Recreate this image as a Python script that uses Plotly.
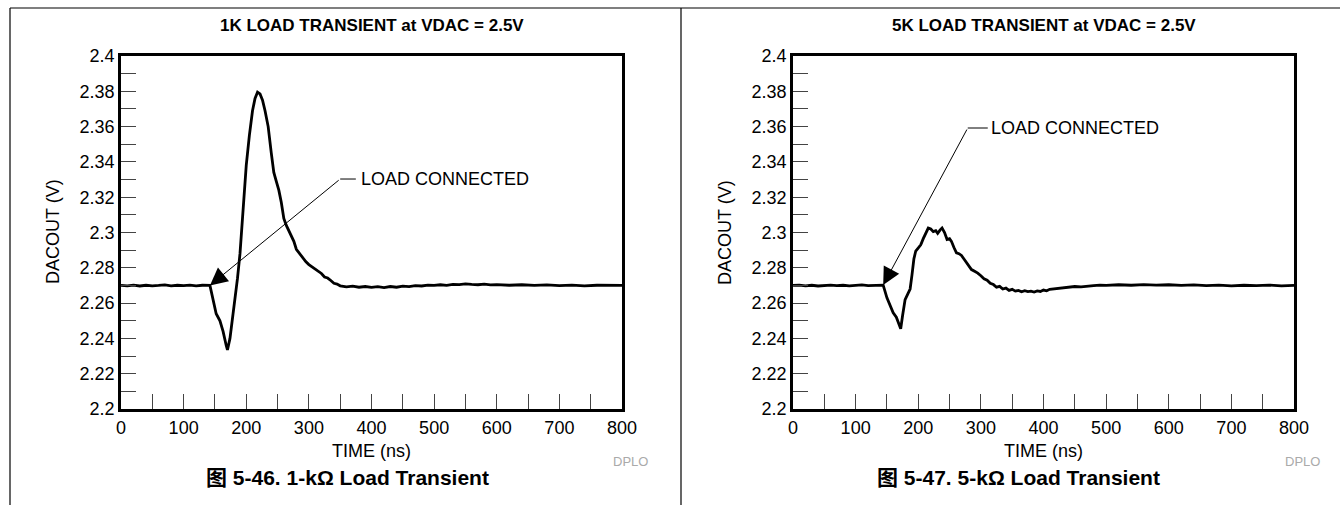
import plotly.graph_objects as go

# 1 kOhm load transient (ns, V)
t_1k = [0, 10, 20, 30, 40, 50, 60, 70, 80, 90, 100, 110, 120, 130, 142,
        148, 152, 158, 163, 168, 170, 174, 178, 182, 186, 190, 195, 200, 205,
        210, 214, 218, 222, 226, 230, 235, 240, 244, 248, 252, 256, 260, 264,
        268, 272, 276, 280, 285, 290, 295, 300, 305, 310, 315, 320, 325, 330,
        335, 340, 345, 350, 360, 370, 380, 390, 400, 410, 420, 430, 440, 450,
        460, 470, 480, 490, 500, 510, 520, 530, 540, 550, 560, 570, 580, 590,
        600, 620, 640, 660, 680, 700, 720, 740, 760, 780, 800]
v_1k = [2.2700, 2.2698, 2.2702, 2.2697, 2.2701, 2.2698, 2.2700, 2.2703, 2.2698,
        2.2701, 2.2699, 2.2702, 2.2698, 2.2701, 2.2700,
        2.2600, 2.2540, 2.2500, 2.2440, 2.2360, 2.2335, 2.2400, 2.2510, 2.2620,
        2.2740, 2.2880, 2.3120, 2.3380, 2.3550, 2.3690, 2.3760, 2.3795, 2.3785,
        2.3750, 2.3690, 2.3600, 2.3450, 2.3340, 2.3290, 2.3240, 2.3170, 2.3080,
        2.3040, 2.3010, 2.2985, 2.2950, 2.2905, 2.2880, 2.2860, 2.2835, 2.2818,
        2.2805, 2.2795, 2.2778, 2.2768, 2.2748, 2.2742, 2.2728, 2.2712, 2.2708,
        2.2698, 2.2692, 2.2696, 2.2690, 2.2694, 2.2689, 2.2693, 2.2688, 2.2694,
        2.2690, 2.2696, 2.2693, 2.2699, 2.2697, 2.2702, 2.2700, 2.2704, 2.2701,
        2.2706, 2.2705, 2.2709, 2.2706, 2.2704, 2.2707, 2.2703, 2.2705, 2.2701,
        2.2704, 2.2700, 2.2703, 2.2699, 2.2702, 2.2698, 2.2701, 2.2699, 2.2700]

# 5 kOhm load transient (ns, V)
t_5k = [0, 10, 20, 30, 40, 50, 60, 70, 80, 90, 100, 110, 120, 130, 144,
        150, 155, 160, 165, 169, 172, 175, 179, 183, 187, 190, 193, 196, 200,
        204, 208, 212, 216, 220, 224, 228, 231, 235, 238, 242, 246, 250, 253,
        257, 261, 265, 269, 273, 277, 281, 285, 290, 295, 300, 305, 310, 315,
        320, 325, 330, 335, 340, 345, 350, 355, 360, 365, 370, 375, 380, 385,
        390, 395, 400, 405, 410, 420, 430, 440, 450, 460, 470, 480, 490, 500,
        520, 540, 560, 580, 600, 620, 640, 660, 680, 700, 720, 740, 760, 780, 800]
v_5k = [2.2700, 2.2702, 2.2698, 2.2701, 2.2697, 2.2700, 2.2702, 2.2699, 2.2701,
        2.2698, 2.2700, 2.2703, 2.2699, 2.2701, 2.2702,
        2.2630, 2.2590, 2.2545, 2.2520, 2.2480, 2.2455, 2.2530, 2.2620, 2.2650,
        2.2680, 2.2760, 2.2850, 2.2895, 2.2910, 2.2930, 2.2965, 2.3000, 2.3025,
        2.3020, 2.3005, 2.3010, 2.2995, 2.3015, 2.3025, 2.3000, 2.2960, 2.2965,
        2.2950, 2.2915, 2.2885, 2.2880, 2.2870, 2.2850, 2.2830, 2.2805, 2.2790,
        2.2780, 2.2770, 2.2755, 2.2738, 2.2730, 2.2712, 2.2705, 2.2690, 2.2695,
        2.2680, 2.2685, 2.2672, 2.2678, 2.2668, 2.2672, 2.2664, 2.2670, 2.2665,
        2.2668, 2.2663, 2.2669, 2.2666, 2.2674, 2.2670, 2.2678, 2.2682, 2.2686,
        2.2690, 2.2694, 2.2692, 2.2697, 2.2699, 2.2702, 2.2700, 2.2704, 2.2701,
        2.2705, 2.2702, 2.2704, 2.2700, 2.2703, 2.2699, 2.2702, 2.2698, 2.2701,
        2.2699, 2.2702, 2.2698, 2.2700]

x_ticks = [0, 100, 200, 300, 400, 500, 600, 700, 800]
y_ticks = [2.2, 2.22, 2.24, 2.26, 2.28, 2.3, 2.32, 2.34, 2.36, 2.38, 2.4]
y_labels = ["2.2", "2.22", "2.24", "2.26", "2.28", "2.3", "2.32", "2.34",
            "2.36", "2.38", "2.4"]

titles = ["1K LOAD TRANSIENT at VDAC = 2.5V", "5K LOAD TRANSIENT at VDAC = 2.5V"]
captions = ["图 5-46. 1-kΩ Load Transient", "图 5-47. 5-kΩ Load Transient"]

# arrow: tip (data), tail of diagonal, end of horizontal leader, label start
arrows = [
    dict(tip=(142, 2.2700), tail=(350, 2.3303), hend=(375, 2.3303), label=380),
    dict(tip=(144, 2.2702), tail=(279, 2.3592), hend=(311, 2.3592), label=313),
]

W, H = 1340, 505
FONT = "Arial, Liberation Sans, Noto Sans CJK SC, sans-serif"
domains = [(121, 622), (793, 1294)]
ydom = [(H - 409) / H, (H - 56) / H]

fig = go.Figure()
fig.add_trace(go.Scatter(x=t_1k, y=v_1k, mode="lines", xaxis="x", yaxis="y",
                         line=dict(color="black", width=2.8)))
fig.add_trace(go.Scatter(x=t_5k, y=v_5k, mode="lines", xaxis="x2", yaxis="y2",
                         line=dict(color="black", width=2.8)))

axis_common = dict(
    showline=True, linewidth=2.8, linecolor="black", mirror=True,
    ticks="inside", ticklen=15, tickwidth=1.2, tickcolor="#444",
    showgrid=False, zeroline=False,
    tickfont=dict(family=FONT, size=18, color="black"),
)

layout = dict(
    width=W, height=H, margin=dict(l=0, r=0, t=0, b=0, autoexpand=False),
    paper_bgcolor="white", plot_bgcolor="white", showlegend=False,
    font=dict(family=FONT, color="black"),
)


def label(text, x, y, size, **kw):
    return dict(text=text, xref="paper", yref="paper", x=x / W, y=1 - y / H,
                xanchor="center", yanchor="middle", showarrow=False,
                font=dict(size=size, **kw.pop("font", {})), **kw)


annotations = []
shapes = [
    dict(type="line", xref="paper", yref="paper", x0=10 / W, x1=1, y0=1 - 8 / H, y1=1 - 8 / H,
         line=dict(color="black", width=1.2)),
    dict(type="line", xref="paper", yref="paper", x0=10 / W, x1=10 / W, y0=0, y1=1 - 8 / H,
         line=dict(color="black", width=1.2)),
    dict(type="line", xref="paper", yref="paper", x0=681 / W, x1=681 / W, y0=0, y1=1 - 8 / H,
         line=dict(color="black", width=1.2)),
]

for i, (x0, x1) in enumerate(domains):
    sfx = "" if i == 0 else str(i + 1)
    xa, ya = "x" + sfx, "y" + sfx
    layout["xaxis" + sfx] = dict(
        axis_common, domain=[x0 / W, x1 / W], range=[0, 800], anchor=ya,
        tickvals=x_ticks, ticktext=[str(v) for v in x_ticks],
        minor=dict(dtick=50, tick0=0, ticks="inside", ticklen=15, tickwidth=1.2, tickcolor="#444"),
    )
    layout["yaxis" + sfx] = dict(
        axis_common, domain=ydom, range=[2.2, 2.4], anchor=xa,
        tickvals=y_ticks, ticktext=y_labels,
        minor=dict(dtick=0.01, tick0=2.2, ticks="inside", ticklen=15, tickwidth=1.2, tickcolor="#444"),
    )
    cx = (x0 + x1) / 2
    offset = 0 if i == 0 else 671
    annotations += [
        label("<b>" + titles[i] + "</b>", cx, 25, 17),
        label("TIME (ns)", cx, 451, 18),
        label("DACOUT (V)", x0 - 68, 232, 18, textangle=-90),
        label("DPLO", x1 + 8, 461, 13, font=dict(color="#aaa")),
        label("<b>" + captions[i] + "</b>", 347 + offset, 477, 21),
    ]
    a = arrows[i]
    annotations += [
        dict(text="", x=a["tip"][0], y=a["tip"][1], xref=xa, yref=ya,
             ax=a["tail"][0], ay=a["tail"][1], axref=xa, ayref=ya,
             showarrow=True, arrowhead=2, arrowsize=3.5, arrowwidth=1, arrowcolor="black"),
        dict(text="LOAD CONNECTED", x=a["label"], y=a["tail"][1], xref=xa, yref=ya,
             xanchor="left", yanchor="middle", showarrow=False, font=dict(size=18)),
    ]
    shapes.append(dict(type="line", xref=xa, yref=ya,
                       x0=a["tail"][0], y0=a["tail"][1], x1=a["hend"][0], y1=a["tail"][1],
                       line=dict(color="black", width=1)))

layout["annotations"] = annotations
layout["shapes"] = shapes
fig.update_layout(**layout)
fig.write_html("out.html", config={"displayModeBar": False},
               post_script="document.body.style.margin='0';")
